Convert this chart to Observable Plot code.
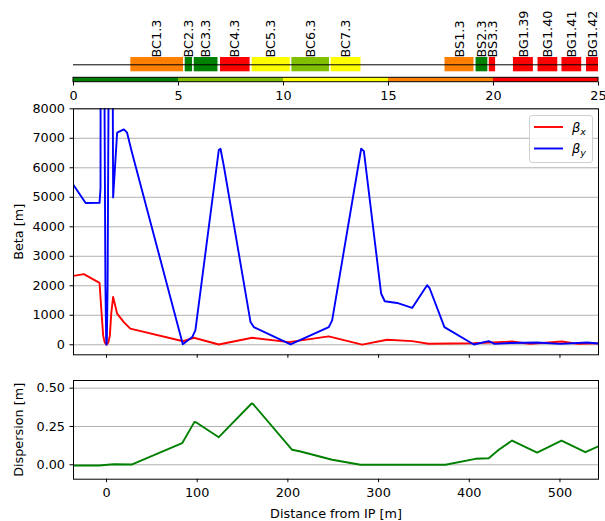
<!DOCTYPE html>
<html><head><meta charset="utf-8">
<script src="https://cdn.jsdelivr.net/npm/d3@7"></script>
<script src="https://cdn.jsdelivr.net/npm/@observablehq/plot@0.6"></script>
<style>
body{margin:0;background:#fff;font-family:"DejaVu Sans",sans-serif}
#wrap{position:relative;width:605px;height:521px;overflow:hidden}
#wrap > *{position:absolute;left:0}
</style></head><body><div id="wrap"></div>
<script>
// ---- layout panel ----
const elementNames = ["BC1.3","BC2.3","BC3.3","BC4.3","BC5.3","BC6.3","BC7.3","BS1.3","BS2.3","BS3.3","BG1.39","BG1.40","BG1.41","BG1.42"];
const elementStart = [2.73,5.32,5.75,7.0,8.51,10.4,12.27,17.69,19.17,19.8,20.95,22.12,23.26,24.43];
const elementEnd   = [5.24,5.67,6.88,8.41,10.32,12.19,13.69,19.07,19.73,20.1,21.9,23.06,24.2,25.3];
const elementColor = ["#ff8000","#008000","#008000","#ff0000","#ffff00","#80c000","#ffff00","#ff8000","#008000","#ff0000","#ff0000","#ff0000","#ff0000","#ff0000"];
const sectionStart = [0,5,10,15,20];
const sectionEnd   = [5,10,15,20,25];
const sectionColor = ["#008000","#80c000","#ffff00","#ff8000","#ff0000"];
const layoutTicks = [0,5,10,15,20,25];

// ---- optics ----
const sBetaX = [-36.4,-25,-7.7,-5.9,-3.7,-2,0,2,3.7,5.2,7.3,11.7,19.1,26.2,84.5,96.3,123.8,160.6,201,245,281.9,309.4,337,355,405,447,467,502,520,542.5];
const betaX  = [2335,2396,2100,1282,317,80,0,80,317,1056,1622,1056,770,545,120,238,10,238,89,283,5,170,123,34,50,110,30,110,30,50];
const sBetaY = [-36.4,-23,-7.7,-6.6,-6.2,-2.4,-1.2,-0.4,0,0.4,1.2,2.4,5.6,7.3,11.7,19.1,22.7,27.2,84.1,94.5,98,123.8,125.7,129.4,158.8,162.4,202.9,245.1,248.8,280.8,283.8,302.8,306.8,320.4,337,353.5,356.4,372.6,405,421.4,428,445,474.8,500,530,542.5];
const betaY  = [5413,4806,4810,5300,20000,9500,2000,200,5,200,2000,9500,20000,4997,7190,7300,7190,6620,20,260,487,6600,6646,6053,770,600,10,600,828,6646,6565,1738,1475,1418,1248,2021,1909,600,10,123,30,60,78,30,78,40];
const sDisp = [-36.4,-8.5,8,28.3,83.4,97,99,123.8,160,161.5,204.7,213.9,248.8,280,373.8,406.8,421.5,432.5,447.2,474.8,501.7,528,542.5];
const disp  = [-0.005,-0.005,0.004,0.002,0.141,0.28,0.276,0.18,0.4,0.397,0.098,0.087,0.033,0,0,0.039,0.043,0.098,0.158,0.08,0.158,0.082,0.121];

const betaTicks = [0,1000,2000,3000,4000,5000,6000,7000,8000];
const dispTicks = [0,0.25,0.5];
const distTicks = [0,100,200,300,400,500];

const FONT = "DejaVu Sans";
const FS = "12.8px";
const wrap = document.getElementById("wrap");
const place = (node, top) => { node.style.top = top + "px"; node.style.overflow = "visible"; wrap.appendChild(node); };

// layout panel
const elements = elementNames.map((name,i)=>({name, start:elementStart[i], end:elementEnd[i], color:elementColor[i]}));
const sections = sectionStart.map((s,i)=>({start:s, end:sectionEnd[i], color:sectionColor[i]}));
const topPanel = Plot.plot({
  width:605, height:100, marginLeft:73, marginRight:7, marginTop:0, marginBottom:18,
  x:{domain:[0,25]}, y:{domain:[0,82], axis:null},
  style:{fontFamily:FONT, fontSize:FS, overflow:"visible", background:"transparent"},
  marks:[
    Plot.rect(sections, {x1:"start", x2:"end", y1:0.3, y2:4.7, fill:"color"}),
    Plot.rect([0], {x1:0, x2:25, y1:0.3, y2:4.7, stroke:"black", strokeWidth:1, fill:"none"}),
    Plot.rect(elements, {x1:"start", x2:"end", y1:10.7, y2:25, fill:"color", clip:true}),
    Plot.ruleY([17.7], {stroke:"black", strokeWidth:1}),
    Plot.text(elements, {x:d=>(d.start+Math.min(d.end,25))/2, y:25, text:"name", rotate:-90, textAnchor:"start", lineAnchor:"middle", fill:"black", fontSize:12.8}),
    Plot.axisX(layoutTicks, {tickSize:3.5, tickPadding:5, label:null, fontSize:12.8})
  ]
});
place(topPanel, 0);

// main beta panel
const bx = sBetaX.map((s,i)=>({s, v:betaX[i]}));
const by = sBetaY.map((s,i)=>({s, v:betaY[i]}));
const mainPanel = Plot.plot({
  width:605, height:262, marginLeft:73, marginRight:7, marginTop:8.3, marginBottom:7.7,
  x:{domain:[-36.4,542.5]}, y:{domain:[-340,8000]},
  style:{fontFamily:FONT, fontSize:FS, overflow:"visible", background:"transparent"},
  marks:[
    Plot.gridY(betaTicks, {stroke:"#b0b0b0", strokeOpacity:1, strokeWidth:1}),
    Plot.line(bx, {x:"s", y:"v", stroke:"red", strokeWidth:1.9, clip:true}),
    Plot.line(by, {x:"s", y:"v", stroke:"blue", strokeWidth:1.9, clip:true}),
    Plot.frame({stroke:"black", strokeWidth:1}),
    Plot.axisY(betaTicks, {tickSize:3.5, tickPadding:5, tickFormat:d3.format("d"), label:"Beta [m]", labelAnchor:"center", labelArrow:"none", labelOffset:60, fontSize:12.8}),
    Plot.axisX(distTicks, {tickSize:3.5, tickFormat:()=>"", label:null})
  ]
});
place(mainPanel, 100);

// legend
const legNS = "http://www.w3.org/2000/svg";
const leg = document.createElement("div");
leg.style.cssText = "left:529px;top:115px;width:62px;height:46px;border:1px solid #d0d0d0;border-radius:3px;background:rgba(255,255,255,0.85)";
leg.innerHTML = `<svg width="62" height="46" xmlns="${legNS}" style="font-family:'DejaVu Sans';font-size:13px">
<line x1="4" x2="33" y1="11" y2="11" stroke="red" stroke-width="1.9"/>
<text x="42" y="16" font-style="italic">β<tspan font-size="9.5" dy="3">x</tspan></text>
<line x1="4" x2="33" y1="32.5" y2="32.5" stroke="blue" stroke-width="1.9"/>
<text x="42" y="37" font-style="italic">β<tspan font-size="9.5" dy="3">y</tspan></text>
</svg>`;
wrap.appendChild(leg);

// dispersion panel
const dd = sDisp.map((s,i)=>({s, v:disp[i]}));
const dispPanel = Plot.plot({
  width:605, height:151, marginLeft:73, marginRight:7, marginTop:10, marginBottom:42.3,
  x:{domain:[-36.4,542.5]}, y:{domain:[-0.094,0.55]},
  style:{fontFamily:FONT, fontSize:FS, overflow:"visible", background:"transparent"},
  marks:[
    Plot.gridY(dispTicks, {stroke:"#b0b0b0", strokeOpacity:1, strokeWidth:1}),
    Plot.line(dd, {x:"s", y:"v", stroke:"green", strokeWidth:1.9, clip:true}),
    Plot.frame({stroke:"black", strokeWidth:1}),
    Plot.axisY(dispTicks, {tickSize:3.5, tickPadding:5, tickFormat:d3.format(".2f"), label:"Dispersion [m]", labelAnchor:"center", labelArrow:"none", labelOffset:60, fontSize:12.8}),
    Plot.axisX(distTicks, {tickSize:3.5, tickPadding:5, label:"Distance from IP [m]", labelAnchor:"center", labelArrow:"none", labelOffset:39, fontSize:12.8})
  ]
});
place(dispPanel, 370);
</script></body></html>
